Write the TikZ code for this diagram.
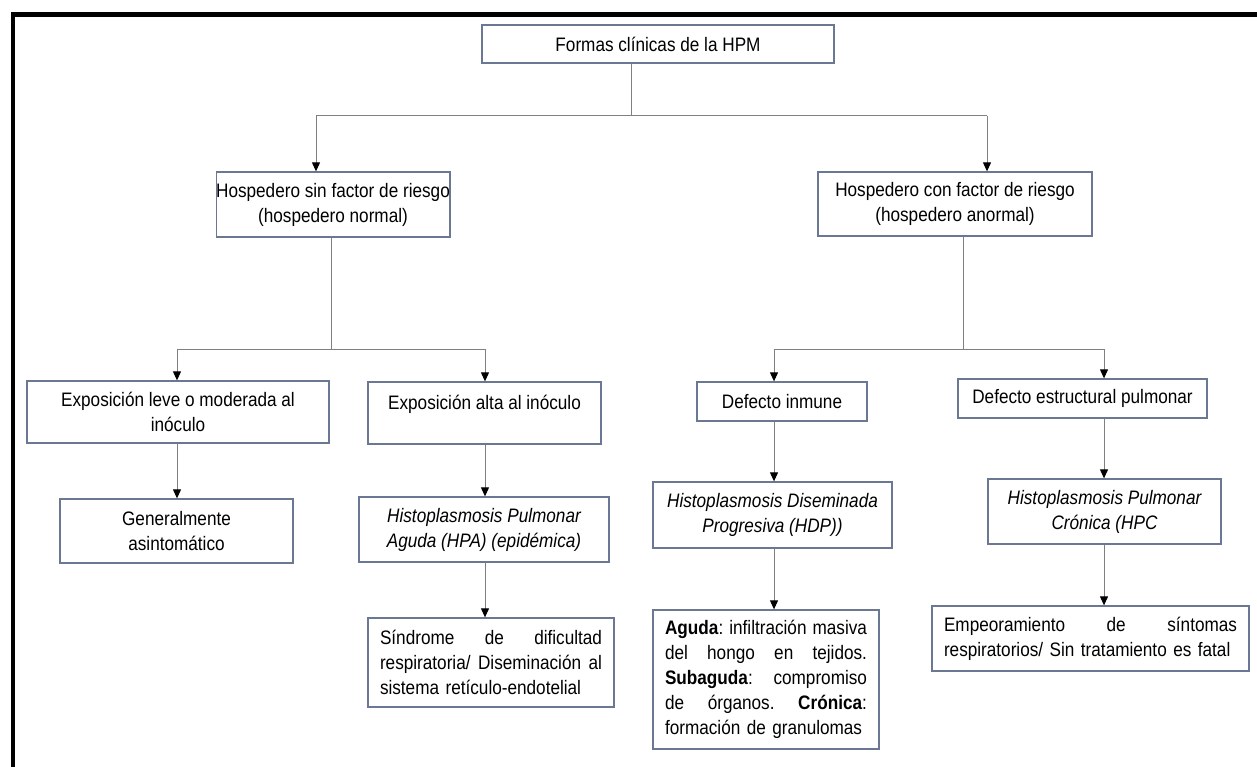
\documentclass[tikz,border=0pt]{standalone}
\usepackage{fontspec}
\setmainfont{Liberation Sans}[FakeStretch=0.88]
\usetikzlibrary{arrows.meta,positioning}
\definecolor{borde}{HTML}{6A7893}
\definecolor{gris}{HTML}{808080}
\newcommand{\llena}[1]{\noindent\hbox to \hsize{\spaceskip=0pt\xspaceskip=0pt #1}}

\begin{document}
\frenchspacing
\begin{tikzpicture}[x=1pt, y=-1pt,
    caja/.style={draw=borde, line width=1.3pt, fill=white, inner sep=0pt, align=center,
        font=\fontsize{19.5}{25}\selectfont},
    texto/.style={caja, align=left, inner xsep=12pt},
    linea/.style={draw=gris, line width=1pt},
    flecha/.style={linea, -{Triangle[width=8pt,length=9pt,color=black]}}]
    \useasboundingbox (0,0) rectangle (1257,767);
    \draw[line width=4.5pt] (13,767) -- (13,14.5) -- (1257,14.5);

    \node[caja, minimum width=352pt, minimum height=38pt] (raiz) at (658,44) {Formas clínicas de la HPM};

    \node[caja, minimum width=224pt, minimum height=65pt] (hsin) at (333,204.5) {Hospedero sin factor de riesgo\\(hospedero normal)};
    \node[caja, minimum width=274pt, minimum height=64pt] (hcon) at (955,204) {Hospedero con factor de riesgo\\(hospedero anormal)};

    \node[caja, minimum width=302pt, minimum height=62pt] (leve) at (178,412) {Exposición leve o moderada al\\inóculo};
    \node[caja, minimum width=233pt, minimum height=62pt] (alta) at (484.5,413) {Exposición alta al inóculo\\[-12pt]\strut};
    \node[caja, minimum width=170pt, minimum height=39pt] (inmune) at (782,401.5) {Defecto inmune};
    \node[caja, minimum width=249pt, minimum height=39pt] (estr) at (1082.5,398.5) {Defecto estructural pulmonar};

    \node[caja, minimum width=233pt, minimum height=64pt] (gen) at (176.5,531) {Generalmente\\asintomático};
    \node[caja, minimum width=250pt, minimum height=65pt] (hpa) at (484,529.5) {\itshape Histoplasmosis Pulmonar\\\itshape Aguda (HPA) (epidémica)};
    \node[caja, minimum width=239pt, minimum height=66pt] (hdp) at (772.5,515) {\itshape Histoplasmosis Diseminada\\\itshape Progresiva (HDP))};
    \node[caja, minimum width=233pt, minimum height=65pt] (hpc) at (1104.5,511.5) {\itshape Histoplasmosis Pulmonar\\\itshape Crónica (HPC};

    \node[texto, text width=222pt, minimum height=89pt] (sind) at (491,662.5)
        {\llena{Síndrome de dificultad}\\\llena{respiratoria/ Diseminación al}\\sistema retículo-endotelial};
    \node[texto, text width=202pt, minimum height=139pt] (aguda) at (766,679.5)
        {\llena{\textbf{Aguda}: infiltración masiva}\\\llena{del hongo en tejidos.}\\\llena{\textbf{Subaguda}: compromiso}\\\llena{de órganos. \textbf{Crónica}:}\\formación de granulomas};
    \node[texto, text width=293pt, minimum height=65pt] (empeor) at (1090.5,638.5)
        {\llena{Empeoramiento de síntomas}\\respiratorios/ Sin tratamiento es fatal};

    % ramas
    \coordinate (r0) at (631,116);
    \coordinate (r1) at (316,116);
    \coordinate (r2) at (987,116);
    \coordinate (s0) at (331,349);
    \coordinate (s1) at (177,349);
    \coordinate (s2) at (485,349);
    \coordinate (c0) at (963,349);
    \coordinate (c1) at (774,349);
    \coordinate (c2) at (1104,349);

    \draw[linea] (raiz.south -| r0) -- (r0);
    \draw[linea] (r1) -- (r2);
    \draw[flecha] (r1) -- (r1 |- hsin.north);
    \draw[flecha] (r2) -- (r2 |- hcon.north);

    \draw[linea] (hsin.south -| s0) -- (s0);
    \draw[linea] (s1) -- (s2);
    \draw[flecha] (s1) -- (s1 |- leve.north);
    \draw[flecha] (s2) -- (s2 |- alta.north);

    \draw[linea] (hcon.south -| c0) -- (c0);
    \draw[linea] (c1) -- (c2);
    \draw[flecha] (c1) -- (c1 |- inmune.north);
    \draw[flecha] (c2) -- (c2 |- estr.north);

    \draw[flecha] (leve.south -| s1) -- (gen.north -| s1);
    \draw[flecha] (alta.south -| s2) -- (hpa.north -| s2);
    \draw[flecha] (hpa.south -| s2) -- (sind.north -| s2);
    \draw[flecha] (inmune.south -| c1) -- (hdp.north -| c1);
    \draw[flecha] (hdp.south -| c1) -- (aguda.north -| c1);
    \draw[flecha] (estr.south -| c2) -- (hpc.north -| c2);
    \draw[flecha] (hpc.south -| c2) -- (empeor.north -| c2);
\end{tikzpicture}
\end{document}
